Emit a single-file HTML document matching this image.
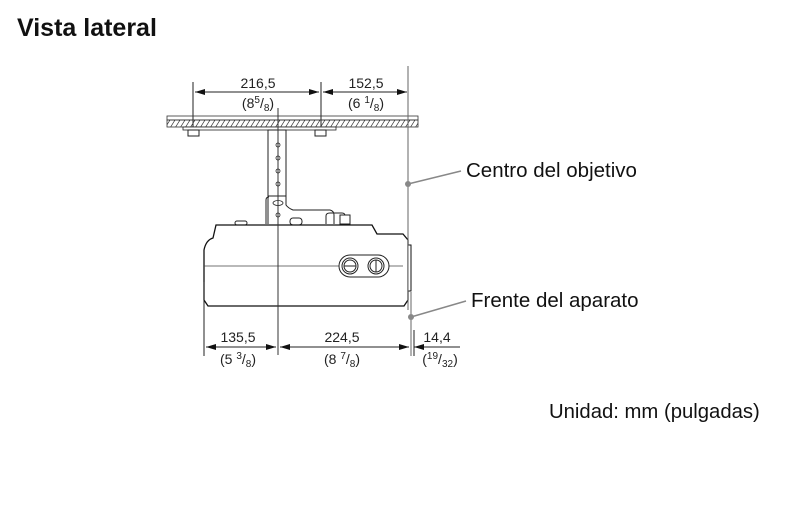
<!DOCTYPE html>
<html><head><meta charset="utf-8"><style>
body{margin:0;background:#fff;width:800px;height:509px;overflow:hidden;font-family:"Liberation Sans",Arial,sans-serif}
</style></head><body>
<svg width="800" height="509" viewBox="0 0 800 509" xmlns="http://www.w3.org/2000/svg" font-family="Liberation Sans, Arial, sans-serif">
<defs>
<marker id="a" viewBox="0 0 10 6" refX="10" refY="3" markerWidth="10" markerHeight="6" orient="auto-start-reverse" markerUnits="userSpaceOnUse"><path d="M0,0L10,3L0,6z" fill="#111"/></marker>
<pattern id="h" width="5" height="8" patternUnits="userSpaceOnUse"><path d="M0,8L5,0" stroke="#333" stroke-width="0.7"/></pattern>
</defs>
<text x="17" y="36" font-size="25" font-weight="bold" fill="#111">Vista lateral</text>
<g stroke="#222" stroke-width="1" fill="none">
<line x1="193" y1="82" x2="193" y2="130"/><line x1="321" y1="82" x2="321" y2="130"/>
<line x1="195" y1="92" x2="319" y2="92" marker-start="url(#a)" marker-end="url(#a)"/>
<line x1="323" y1="92" x2="407" y2="92" marker-start="url(#a)" marker-end="url(#a)"/>
</g>
<g font-size="14" fill="#222" text-anchor="middle">
<text x="258" y="88">216,5</text><text x="366" y="88">152,5</text>
<text x="258" y="108">(8<tspan font-size="10" dy="-5">5</tspan><tspan dy="5">/</tspan><tspan font-size="10" dy="3">8</tspan><tspan dy="-3">)</tspan></text>
<text x="366" y="108">(6 <tspan font-size="10" dy="-5">1</tspan><tspan dy="5">/</tspan><tspan font-size="10" dy="3">8</tspan><tspan dy="-3">)</tspan></text>
</g>
<rect x="167" y="116" width="251" height="4" fill="none" stroke="#333" stroke-width="0.8"/>
<rect x="167" y="120" width="251" height="7" fill="url(#h)" stroke="#333" stroke-width="0.8"/>
<rect x="183" y="127" width="153" height="3" fill="#fff" stroke="#222" stroke-width="0.8"/>
<rect x="188" y="130" width="11" height="6" fill="#fff" stroke="#222"/><rect x="315" y="130" width="11" height="6" fill="#fff" stroke="#222"/>
<g stroke="#222" stroke-width="1" fill="#fff">
<rect x="268" y="130" width="18" height="66"/>
<path d="M268,196 L268,224 M286,196 L286,205 Q288,208 293,210 L330,210 Q334,211 334,215 L334,224 M266,224 L266,200 Q266,197 269,197"/>
<path d="M326,224 L326,216 Q326,213 330,213 L342,213 Q345,213 345,216 L345,224" fill="none"/>
<rect x="290" y="218" width="12" height="7" rx="3"/>
<rect x="340" y="215" width="10" height="9"/>
<rect x="235" y="221" width="12" height="4" rx="2"/>
</g>
<g fill="none" stroke="#222" stroke-width="0.8">
<circle cx="278" cy="145" r="2"/><circle cx="278" cy="158" r="2"/><circle cx="278" cy="171" r="2"/><circle cx="278" cy="184" r="2"/><circle cx="278" cy="215" r="2"/>
<ellipse cx="278" cy="203" rx="5" ry="2.5"/>
</g>
<path d="M216,225 L372,225 L377,234 L403,234 L408,240 L408,300 L404,306 L208,306 L204,300 L204,250 Q206,240 213,238 Z" fill="#fff" stroke="#111" stroke-width="1.3"/>
<rect x="408" y="245" width="3" height="46" fill="#fff" stroke="#111"/>
<line x1="204" y1="266" x2="403" y2="266" stroke="#444" stroke-width="0.8"/>
<rect x="339" y="255" width="50" height="22" rx="11" fill="#fff" stroke="#222"/>
<circle cx="350" cy="266" r="8" fill="#fff" stroke="#222"/><circle cx="350" cy="266" r="6" fill="none" stroke="#222"/><line x1="344" y1="266" x2="356" y2="266" stroke="#222"/>
<circle cx="376" cy="266" r="8" fill="#fff" stroke="#222"/><circle cx="376" cy="266" r="6" fill="none" stroke="#222"/><line x1="376" y1="260" x2="376" y2="272" stroke="#222"/>
<line x1="278" y1="108" x2="278" y2="355" stroke="#333" stroke-width="1"/>
<g stroke="#888" stroke-width="1.5" fill="#888">
<line x1="408" y1="66" x2="408" y2="310" stroke="#666" stroke-width="1"/>
<line x1="411" y1="292" x2="411" y2="356" stroke="#666" stroke-width="1"/>
<circle cx="408" cy="184" r="3" stroke="none"/><line x1="408" y1="184" x2="461" y2="171"/>
<circle cx="411" cy="317" r="3" stroke="none"/><line x1="411" y1="317" x2="466" y2="301"/>
</g>
<text x="466" y="177" font-size="20.5" fill="#111">Centro del objetivo</text>
<text x="471" y="307" font-size="20.5" fill="#111">Frente del aparato</text>
<g stroke="#222" stroke-width="1" fill="none">
<line x1="204" y1="282" x2="204" y2="356"/><line x1="414" y1="330" x2="414" y2="356"/>
<line x1="206" y1="347" x2="276" y2="347" marker-start="url(#a)" marker-end="url(#a)"/>
<line x1="280" y1="347" x2="409" y2="347" marker-start="url(#a)" marker-end="url(#a)"/>
<line x1="414" y1="347" x2="428" y2="347" marker-start="url(#a)"/><line x1="428" y1="347" x2="460" y2="347"/>
</g>
<g font-size="14" fill="#222" text-anchor="middle">
<text x="238" y="342">135,5</text><text x="342" y="342">224,5</text><text x="437" y="342">14,4</text>
<text x="238" y="364">(5 <tspan font-size="10" dy="-5">3</tspan><tspan dy="5">/</tspan><tspan font-size="10" dy="3">8</tspan><tspan dy="-3">)</tspan></text>
<text x="342" y="364">(8 <tspan font-size="10" dy="-5">7</tspan><tspan dy="5">/</tspan><tspan font-size="10" dy="3">8</tspan><tspan dy="-3">)</tspan></text>
<text x="440" y="364">(<tspan font-size="10" dy="-5">19</tspan><tspan dy="5">/</tspan><tspan font-size="10" dy="3">32</tspan><tspan dy="-3">)</tspan></text>
</g>
<text x="549" y="418" font-size="20.3" fill="#111">Unidad: mm (pulgadas)</text>
</svg>
</body></html>
